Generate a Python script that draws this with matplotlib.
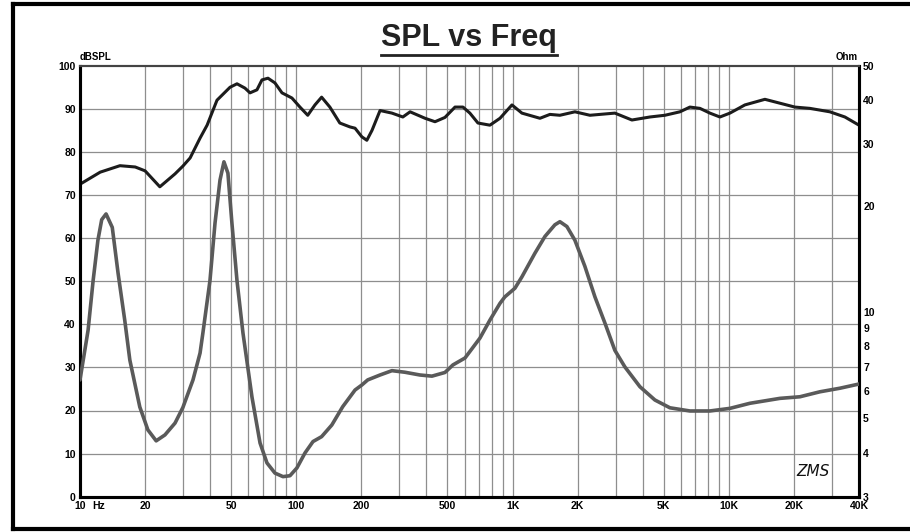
import numpy as np
import matplotlib
matplotlib.use('Agg')
import matplotlib.pyplot as plt
from matplotlib.lines import Line2D
from matplotlib.ticker import FixedLocator, NullLocator

plt.rcParams['font.family'] = ['Liberation Sans', 'DejaVu Sans']

# --- data ---
spl_freq = [10, 12.4, 15.3, 18, 20, 23.4, 27.5, 29.9, 32.3, 35.9, 38.7, 43, 49.4, 53.2,
            57.9, 61.1, 65.8, 69.4, 74, 79.7, 85.9, 95.5, 104, 113, 122, 131, 143, 159,
            177, 187, 201, 212, 224, 244, 277, 311, 336, 394, 438, 487, 542, 590, 635,
            692, 786, 875, 994, 1105, 1339, 1489, 1656, 1943, 2280, 2973, 3565, 4318,
            5066, 5942, 6610, 7354, 8178, 9098, 10120, 11870, 14690, 17230, 20210,
            23710, 29340, 34420, 40000]
spl_db = [72.5, 75.3, 76.8, 76.5, 75.6, 71.9, 74.9, 76.7, 78.6, 83.2, 86.2, 92, 95, 95.8,
          94.8, 93.7, 94.4, 96.7, 97.1, 96, 93.7, 92.5, 90.4, 88.5, 90.9, 92.7, 90.4, 86.7,
          85.8, 85.5, 83.5, 82.7, 85, 89.6, 89, 88.1, 89.3, 87.8, 87, 88, 90.4, 90.4, 89,
          86.7, 86.2, 87.8, 90.9, 89, 87.8, 88.7, 88.5, 89.3, 88.5, 89, 87.4, 88.1,
          88.5, 89.3, 90.4, 90.1, 89, 88.1, 89, 90.9, 92.2, 91.3, 90.4,
          90.1, 89.3, 88.1, 86.2]

imp_freq = [10, 10.9, 11.5, 12.1, 12.6, 13.2, 14.1, 15.0, 16.1, 17.0, 18.9, 20.6, 22.5,
            24.7, 27.5, 29.9, 33.3, 35.9, 37.0, 39.9, 42.1, 44.4, 46.3, 48.3, 50.4, 53.2,
            56.7, 57.9, 62.4, 68, 73.2, 79.7, 86.8, 93.5, 100.7, 109.7, 119.5, 131, 146,
            164, 187, 201, 214, 244, 277, 318, 373, 424, 487, 530, 603, 707, 786, 875,
            922, 1026, 1105, 1269, 1412, 1570, 1656, 1784, 1943, 2160, 2404, 2674, 2973,
            3307, 3882, 4553, 5342, 6610, 8178, 10120, 12520, 17230, 21320, 26380,
            32630, 40000]
imp_ohm = [6.43, 8.9, 12.3, 16.0, 18.3, 19.0, 17.4, 12.9, 9.5, 7.32, 5.39, 4.64, 4.32,
           4.49, 4.85, 5.37, 6.43, 7.66, 8.73, 12.3, 17.9, 23.7, 26.7, 24.8, 17.9, 12.3,
           8.73, 7.97, 5.75, 4.26, 3.74, 3.5, 3.42, 3.44, 3.62, 3.99, 4.30, 4.44, 4.79,
           5.4, 6.02, 6.22, 6.43, 6.64, 6.83, 6.76, 6.64, 6.59, 6.75, 7.09, 7.42, 8.45,
           9.5, 10.6, 11.06, 11.7, 12.6, 14.7, 16.4, 17.7, 18.06, 17.5, 16.0, 13.5,
           11.06, 9.32, 7.8, 7.0, 6.15, 5.64, 5.36, 5.25, 5.25, 5.34, 5.52, 5.7, 5.76,
           5.95, 6.09, 6.26]

x_ticks = [10, 20, 50, 100, 200, 500, 1000, 2000, 5000, 10000, 20000, 40000]
x_labels = ['10', '20', '50', '100', '200', '500', '1K', '2K', '5K', '10K', '20K', '40K']
db_ticks = [0, 10, 20, 30, 40, 50, 60, 70, 80, 90, 100]
ohm_ticks = [3, 4, 5, 6, 7, 8, 9, 10, 20, 30, 40, 50]

fig = plt.figure(figsize=(9.1, 5.32), dpi=100)
ax = fig.add_axes([80 / 910, 1 - 496.7 / 532, 779 / 910, 431 / 532])

# grid
grid_x = [m * 10 ** d for d in range(1, 5) for m in range(1, 10) if 10 <= m * 10 ** d <= 40000]
for g in grid_x:
    ax.axvline(g, color='#8e8e8e', lw=0.9, zorder=1)
for g in db_ticks[1:-1]:
    ax.axhline(g, color='#8e8e8e', lw=0.9, zorder=1)

ax.plot(spl_freq, spl_db, color='#1c1c1c', lw=2.2, zorder=4,
        solid_joinstyle='round', solid_capstyle='round')

ax.set_xscale('log')
ax.set_xlim(10, 40000)
ax.set_ylim(0, 100)
ax.xaxis.set_major_locator(FixedLocator(x_ticks))
ax.xaxis.set_minor_locator(NullLocator())
ax.set_xticklabels(x_labels)
ax.set_yticks(db_ticks)
ax.tick_params(length=0, labelsize=7.5, pad=3)
for lab in ax.get_xticklabels() + ax.get_yticklabels():
    lab.set_fontweight('bold')

ax2 = ax.twinx()
ax2.set_yscale('log')
ax2.set_ylim(3, 50)
ax2.plot(imp_freq, imp_ohm, color='#5a5a5a', lw=2.6, zorder=3,
         solid_joinstyle='round', solid_capstyle='round')
ax2.yaxis.set_major_locator(FixedLocator(ohm_ticks))
ax2.yaxis.set_minor_locator(NullLocator())
ax2.set_yticklabels([str(t) for t in ohm_ticks])
ax2.tick_params(length=0, labelsize=7.5, pad=3)
for lab in ax2.get_yticklabels():
    lab.set_fontweight('bold')

for a in (ax, ax2):
    a.spines['left'].set_linewidth(2.2)
    a.spines['bottom'].set_linewidth(2.2)
    a.spines['right'].set_linewidth(2.2)
    a.spines['top'].set_linewidth(1.5)
    a.spines['top'].set_color('#444444')

# axis captions
fig.text(80 / 910, 1 - 57 / 532, 'dBSPL', fontsize=7, fontweight='bold', ha='left', va='center')
fig.text(858 / 910, 1 - 57 / 532, 'Ohm', fontsize=7, fontweight='bold', ha='right', va='center')
ax.text(12.2, -4.2 / 431, 'Hz', transform=ax.get_xaxis_transform(), fontsize=7.5,
        fontweight='bold', ha='center', va='top')
ax.text(0.962, 0.058, 'ZMS', transform=ax.transAxes, fontsize=11, style='italic',
        ha='right', va='center', family='DejaVu Sans', color='#111111')

# title with underline
title = fig.text(469 / 910, 1 - 38 / 532, 'SPL vs Freq', fontsize=22, fontweight='bold',
                 ha='center', va='center', color='#222222')
fig.canvas.draw()
bb = title.get_window_extent().transformed(fig.transFigure.inverted())
fig.add_artist(Line2D([bb.x0, bb.x1], [bb.y0 - 0.003, bb.y0 - 0.003], color='#222222',
                      lw=2, transform=fig.transFigure))

# outer frame
fr = dict(color='black', lw=3, transform=fig.transFigure)
fig.add_artist(Line2D([13 / 910, 1.01], [1 - 4 / 532, 1 - 4 / 532], **fr))
fig.add_artist(Line2D([13 / 910, 1.01], [1 - 529 / 532, 1 - 529 / 532], **fr))
fig.add_artist(Line2D([13 / 910, 13 / 910], [1 - 4 / 532, 1 - 529 / 532], **fr))

fig.savefig('out.png', dpi=100)
